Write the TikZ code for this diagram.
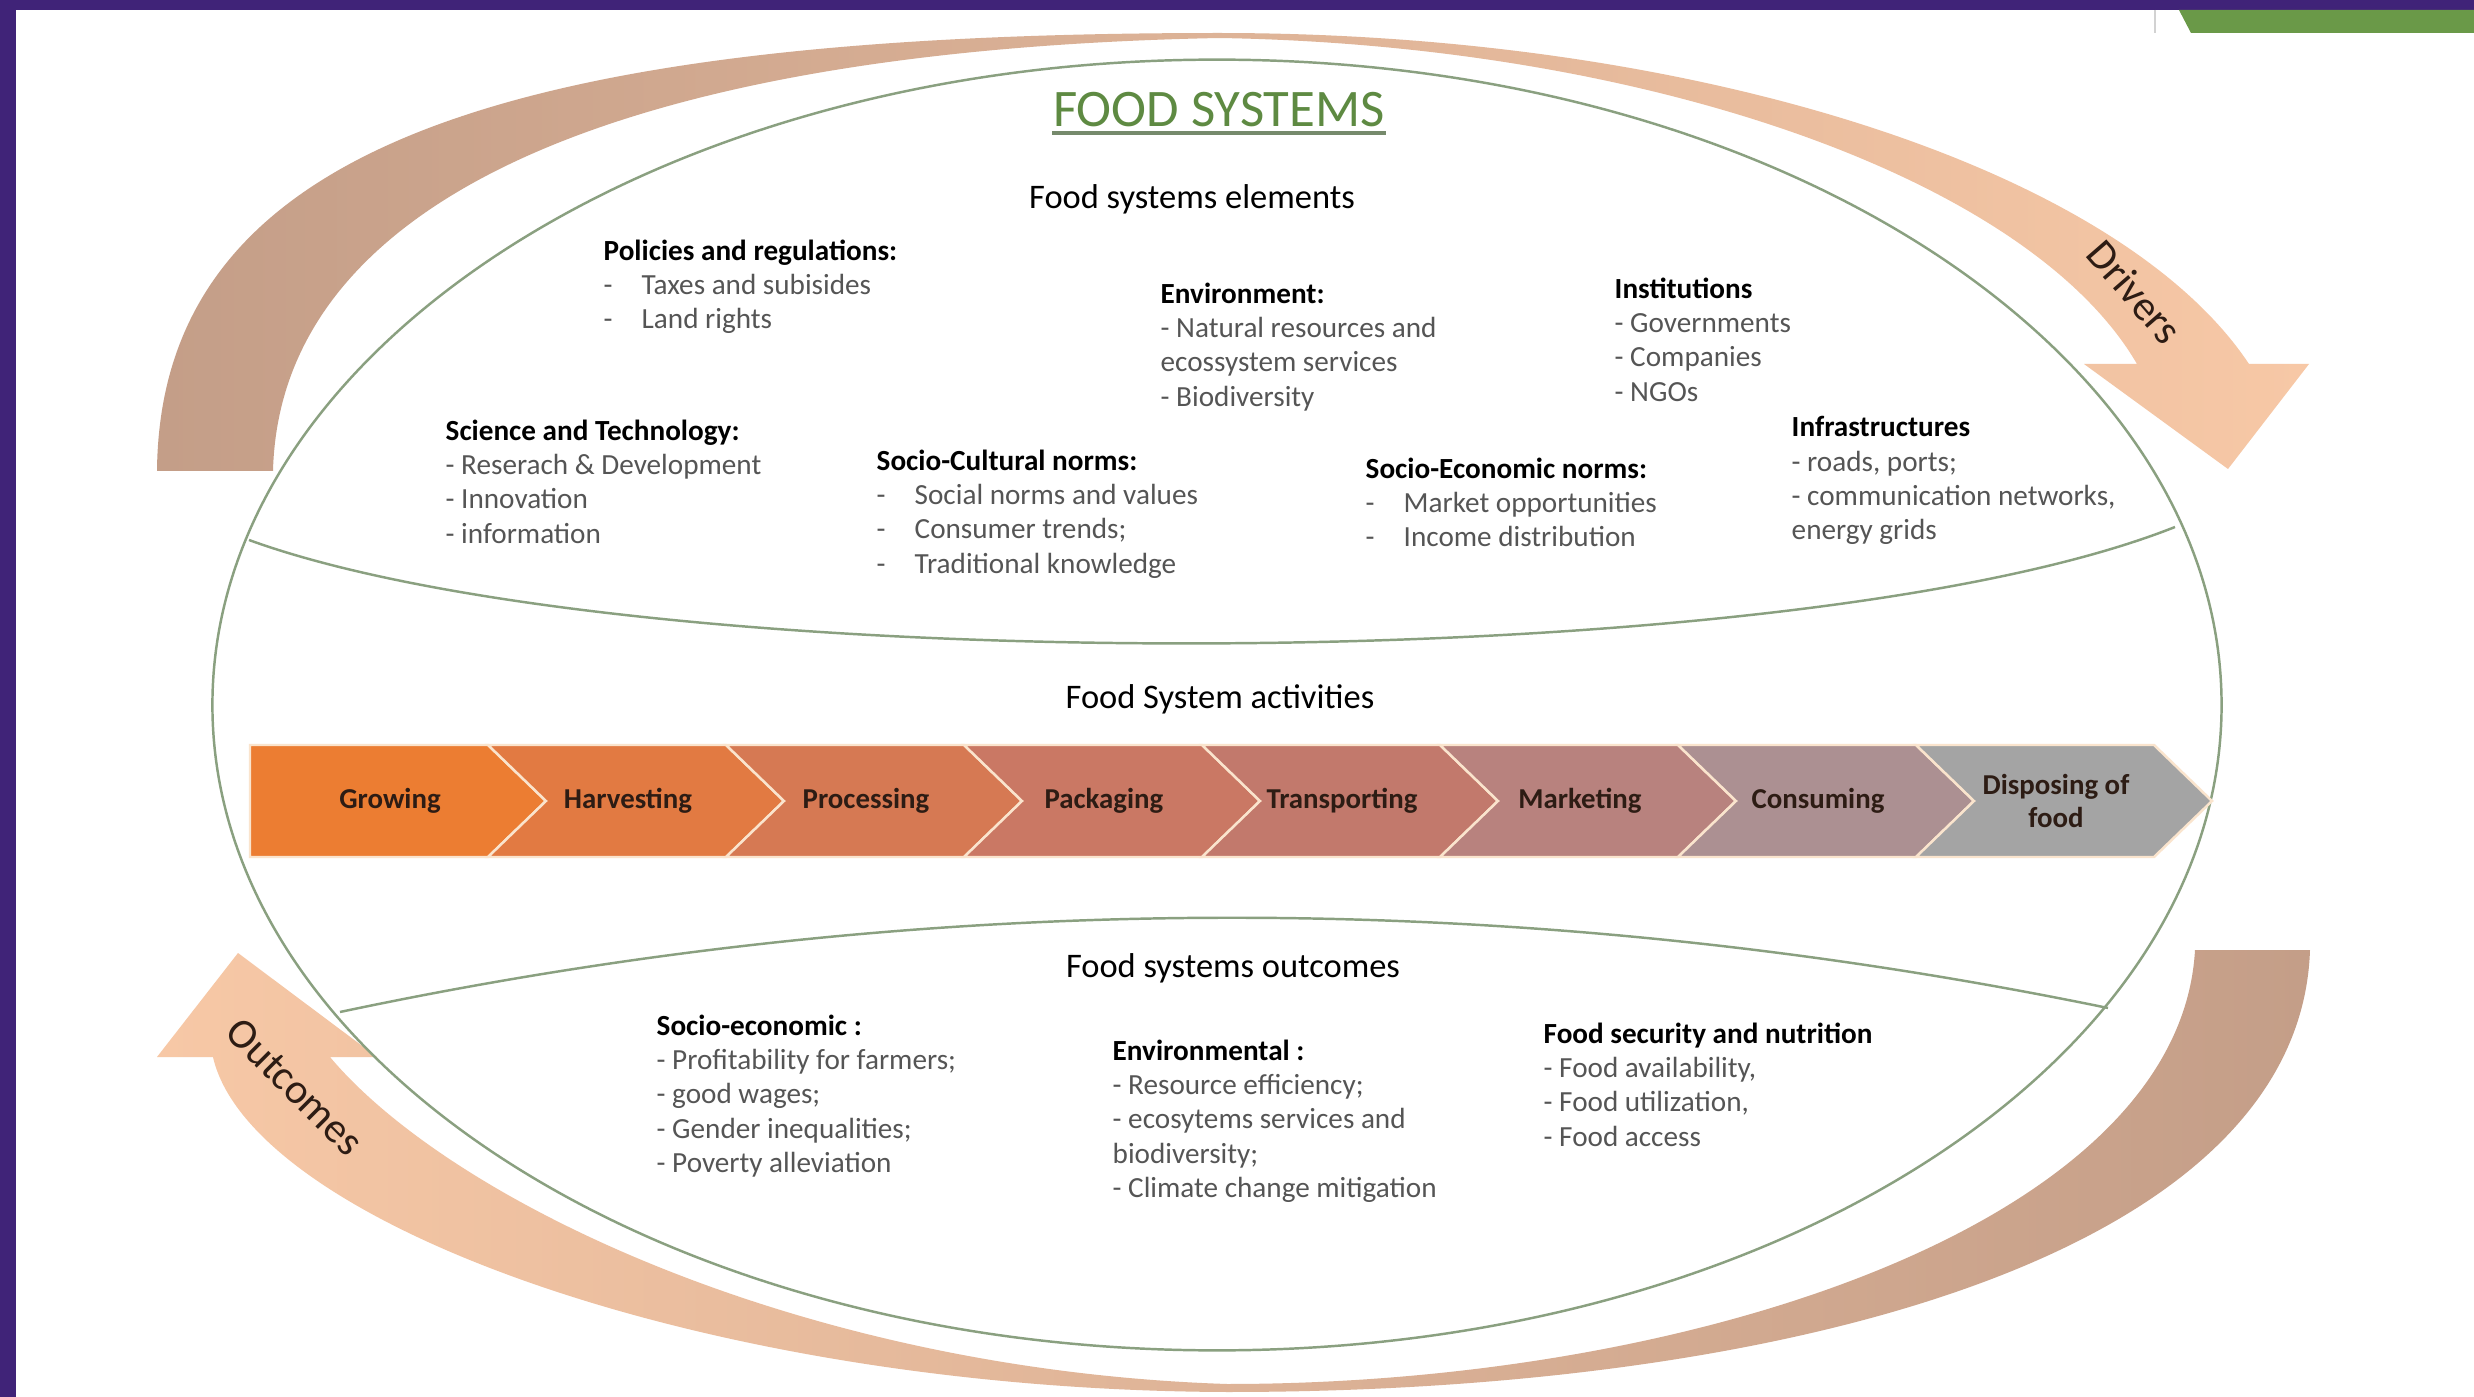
\documentclass[tikz,border=0pt]{standalone}
\usepackage{fontspec}
\setmainfont{Carlito}
\usepackage{xcolor}
\usepackage{tikz}

\definecolor{framepurple}{RGB}{64,35,120}
\definecolor{bargreen}{RGB}{106,153,72}
\definecolor{ringgreen}{RGB}{138,160,128}
\definecolor{titlegreen}{RGB}{94,138,66}
\definecolor{titleline}{RGB}{118,138,108}
\definecolor{bandbrown}{RGB}{196,158,136}
\definecolor{bandpeach}{RGB}{247,200,166}
\definecolor{itemgray}{RGB}{85,85,85}
\definecolor{labeldark}{RGB}{45,28,20}
\definecolor{sepcream}{RGB}{250,228,205}
\definecolor{chev0}{RGB}{236,125,50}
\definecolor{chev1}{RGB}{226,122,66}
\definecolor{chev2}{RGB}{214,121,83}
\definecolor{chev3}{RGB}{202,120,100}
\definecolor{chev4}{RGB}{194,121,108}
\definecolor{chev5}{RGB}{184,130,126}
\definecolor{chev6}{RGB}{172,144,146}
\definecolor{chev7}{RGB}{164,164,164}

\newcommand{\head}[1]{\textcolor{black}{\textbf{#1}}}
\newcommand{\tabdash}{\makebox[0.38cm][l]{-}}

\begin{document}
\begin{tikzpicture}[
    % one unit = one pixel of the slide, y going down
    x=0.01cm, y=-0.01cm,
    ring/.style={draw=ringgreen, line width=0.7pt},
    % blocks of elements and outcomes
    elem/.style={anchor=north west, align=left, inner sep=0pt, text=itemgray, font=\fontsize{8.3}{9.76}\selectfont},
    section/.style={inner sep=0pt, font=\fontsize{9.8}{11}\selectfont},
    % steps of the activity chain
    chevron/.style={draw=sepcream, line width=0.7pt},
    chevlabel/.style={align=center, inner sep=0pt, text=labeldark, font=\fontsize{8.2}{9.4}\selectfont\bfseries},
    bandlabel/.style={inner sep=0pt, text=labeldark, font=\fontsize{12}{14}\selectfont}
]

\useasboundingbox (0,0) rectangle (2474,1397);
\fill[white] (0,0) rectangle (2474,1397);

% Slide frame
\fill[framepurple] (0,0) rectangle (2474,10);
\fill[framepurple] (0,0) rectangle (16,1397);
\fill[bargreen] (2179,10) -- (2474,10) -- (2474,33) -- (2191,33) -- cycle;
\draw[gray!35, line width=0.5pt] (2155,10) -- (2155,33);

% 1. Drivers arrow (top)
\path[left color=bandbrown, right color=bandpeach]
    (157,471) .. controls (160,150) and (500,33) .. (1219,33)
    .. controls (1700,33) and (2120,170) .. (2249,364)
    -- (2309,364) -- (2228,469) -- (2084,364) -- (2137,364)
    .. controls (2030,180) and (1650,45) .. (1219,38)
    .. controls (620,50) and (280,200) .. (273,471) -- cycle;
\node[bandlabel, rotate=-49] (drivers) at (2135,292) {Drivers};

% 2. Outcomes arrow (bottom)
\path[left color=bandpeach, right color=bandbrown]
    (377,1057) -- (238,953) -- (157,1057) -- (213,1057)
    .. controls (250,1220) and (700,1390) .. (1227,1392)
    .. controls (1800,1392) and (2300,1250) .. (2310,950)
    -- (2195,950)
    .. controls (2180,1220) and (1700,1384) .. (1227,1384)
    .. controls (800,1370) and (450,1200) .. (330,1057) -- cycle;
\node[bandlabel, rotate=-45] (outcomes) at (295,1087) {Outcomes};

% 3. Food system ring and its two lenses
\draw[ring] (1217,705) ellipse [x radius=10.04cm, y radius=6.45cm];
\draw[ring] (249,540) .. controls (634,680) and (1790,680) .. (2175,527);
\draw[ring] (340,1012) .. controls (930,887) and (1520,887) .. (2108,1008);

% 4. Title
\node[inner sep=0pt, anchor=base, text=titlegreen, font=\fontsize{15}{18}\selectfont] (title) at (1219,127) {FOOD SYSTEMS};
\draw[titleline, line width=0.9pt] ([yshift=-0.06cm]title.base west) -- ([yshift=-0.06cm]title.base east);

% 5. Food systems elements
\node[section] (elements) at (1192,199) {Food systems elements};

\node[elem] (policies) at (603,239) {\head{Policies and regulations:}\\
    \tabdash Taxes and subisides\\
    \tabdash Land rights};

\node[elem] (environment) at (1160,282) {\head{Environment:}\\
    - Natural resources and\\
    ecossystem services\\
    - Biodiversity};

\node[elem] (institutions) at (1614,277) {\head{Institutions}\\
    - Governments\\
    - Companies\\
    - NGOs};

\node[elem] (science) at (445,419) {\head{Science and Technology:}\\
    - Reserach \& Development\\
    - Innovation\\
    - information};

\node[elem] (sociocult) at (876,449) {\head{Socio-Cultural norms:}\\
    \tabdash Social norms and values\\
    \tabdash Consumer trends;\\
    \tabdash Traditional knowledge};

\node[elem] (socioeco) at (1365,457) {\head{Socio-Economic norms:}\\
    \tabdash Market opportunities\\
    \tabdash Income distribution};

\node[elem] (infra) at (1791,416) {\head{Infrastructures}\\
    - roads, ports;\\
    - communication networks,\\
    energy grids};

% 6. Food system activities
\node[section] (activities) at (1220,699) {Food System activities};

\foreach \lbl/\col [count=\i from 0] in {Growing/chev0, Harvesting/chev1, Processing/chev2, Packaging/chev3, Transporting/chev4, Marketing/chev5, Consuming/chev6, {Disposing of\\food}/chev7} {
    \pgfmathsetmacro\xa{250+238*\i}
    \pgfmathsetmacro\xb{\xa+238}
    \pgfmathsetmacro\notch{ifthenelse(\i==0,0,58)}
    \path[chevron, fill=\col] (\xa,745) -- (\xb,745) -- (\xb+58,801) -- (\xb,857) -- (\xa,857) -- (\xa+\notch,801) -- cycle;
    \node[chevlabel] (act\i) at (\xa+140,801) {\lbl};
}

% 7. Food systems outcomes
\node[section] (outcomesttl) at (1233,968) {Food systems outcomes};

\node[elem] (outsocio) at (656,1014) {\head{Socio-economic :}\\
    - Profitability for farmers;\\
    - good wages;\\
    - Gender inequalities;\\
    - Poverty alleviation};

\node[elem] (outenv) at (1112,1039) {\head{Environmental :}\\
    - Resource efficiency;\\
    - ecosytems services and\\
    biodiversity;\\
    - Climate change mitigation};

\node[elem] (outfood) at (1543,1022) {\head{Food security and nutrition}\\
    - Food availability,\\
    - Food utilization,\\
    - Food access};

\end{tikzpicture}
\end{document}
